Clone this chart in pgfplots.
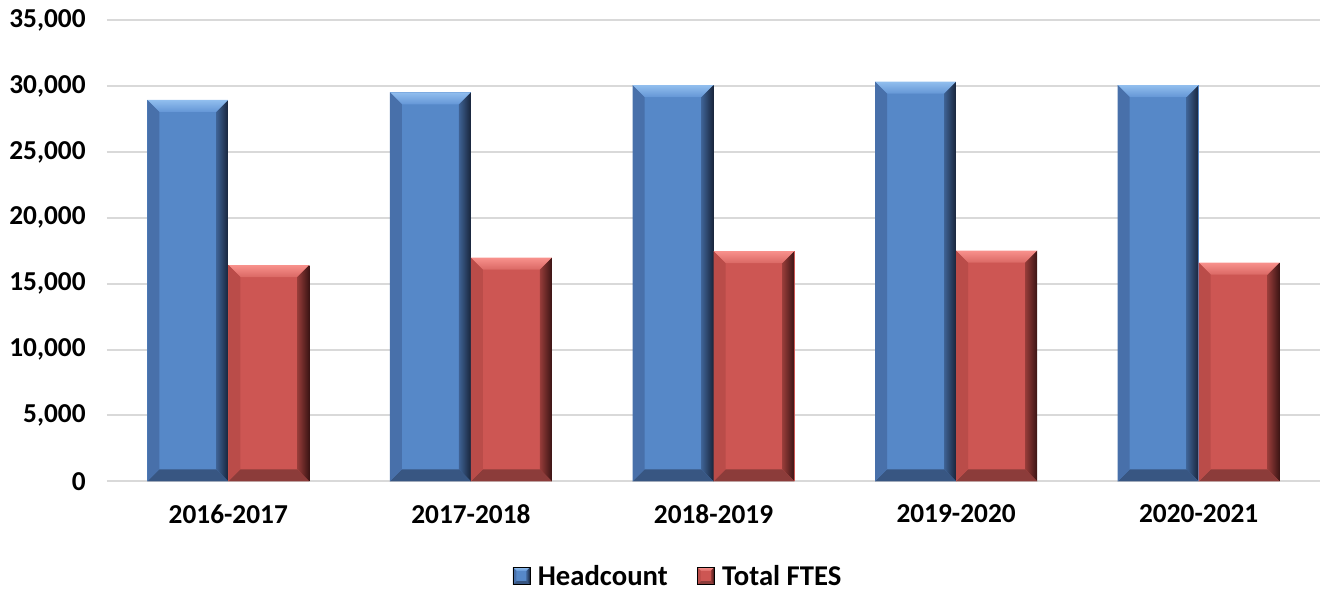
\documentclass[border=0pt]{standalone}
\usepackage{fontspec}
\setmainfont{Carlito}
\usepackage{pgfplots}
\pgfplotsset{compat=1.18}

\definecolor{hcMain}{RGB}{86,136,200}
\definecolor{hcTopA}{RGB}{145,190,238}
\definecolor{hcTopB}{RGB}{100,150,214}
\definecolor{hcRightA}{RGB}{62,98,148}
\definecolor{hcRightB}{RGB}{24,36,58}
\definecolor{hcBot}{RGB}{56,86,130}
\definecolor{hcLeft}{RGB}{72,112,170}
\definecolor{ftMain}{RGB}{205,86,83}
\definecolor{ftTopA}{RGB}{248,145,140}
\definecolor{ftTopB}{RGB}{218,104,100}
\definecolor{ftRightA}{RGB}{150,60,57}
\definecolor{ftRightB}{RGB}{58,20,20}
\definecolor{ftBot}{RGB}{140,60,58}
\definecolor{ftLeft}{RGB}{186,76,73}
\definecolor{gridgray}{RGB}{217,217,217}

\pgfdeclareverticalshading{hctop}{100bp}{color(0bp)=(hcTopB); color(25bp)=(hcTopB); color(75bp)=(hcTopA); color(100bp)=(hcTopA)}
\pgfdeclarehorizontalshading{hcright}{100bp}{color(0bp)=(hcRightA); color(25bp)=(hcRightA); color(75bp)=(hcRightB); color(100bp)=(hcRightB)}
\pgfdeclareverticalshading{fttop}{100bp}{color(0bp)=(ftTopB); color(25bp)=(ftTopB); color(75bp)=(ftTopA); color(100bp)=(ftTopA)}
\pgfdeclarehorizontalshading{ftright}{100bp}{color(0bp)=(ftRightA); color(25bp)=(ftRightA); color(75bp)=(ftRightB); color(100bp)=(ftRightB)}

\makeatletter
\newcommand\bevel[5]{%
  \pgfpointanchor{path picture bounding box}{south west}%
  \edef\bvx{\the\pgf@x}\edef\bvy{\the\pgf@y}%
  \pgfpointanchor{path picture bounding box}{north east}%
  \edef\evx{\the\pgf@x}\edef\evy{\the\pgf@y}%
  \def\bw{#5}%
  % top
  \begin{pgfscope}
  \pgfpathmoveto{\pgfpoint{\bvx}{\evy}}%
  \pgfpathlineto{\pgfpoint{\evx}{\evy}}%
  \pgfpathlineto{\pgfpoint{\evx-\bw}{\evy-\bw}}%
  \pgfpathlineto{\pgfpoint{\bvx+\bw}{\evy-\bw}}%
  \pgfpathclose
  \pgfshadepath{#1}{0}\pgfusepath{discard}%
  \end{pgfscope}
  % right
  \begin{pgfscope}
  \pgfpathmoveto{\pgfpoint{\evx}{\evy}}%
  \pgfpathlineto{\pgfpoint{\evx}{\bvy}}%
  \pgfpathlineto{\pgfpoint{\evx-\bw}{\bvy+\bw}}%
  \pgfpathlineto{\pgfpoint{\evx-\bw}{\evy-\bw}}%
  \pgfpathclose
  \pgfshadepath{#2}{0}\pgfusepath{discard}%
  \end{pgfscope}
  % bottom
  \begin{pgfscope}
  \pgfsetfillcolor{#3}%
  \pgfpathmoveto{\pgfpoint{\bvx}{\bvy}}%
  \pgfpathlineto{\pgfpoint{\evx}{\bvy}}%
  \pgfpathlineto{\pgfpoint{\evx-\bw}{\bvy+\bw}}%
  \pgfpathlineto{\pgfpoint{\bvx+\bw}{\bvy+\bw}}%
  \pgfpathclose
  \pgfusepath{fill}%
  \end{pgfscope}
  % left
  \begin{pgfscope}
  \pgfsetfillcolor{#4}%
  \pgfpathmoveto{\pgfpoint{\bvx}{\evy}}%
  \pgfpathlineto{\pgfpoint{\bvx}{\bvy}}%
  \pgfpathlineto{\pgfpoint{\bvx+\bw}{\bvy+\bw}}%
  \pgfpathlineto{\pgfpoint{\bvx+\bw}{\evy-\bw}}%
  \pgfpathclose
  \pgfusepath{fill}%
  \end{pgfscope}
}
\makeatother

\pgfplotsset{
  hc/.style={ybar, bar width=60.75pt, bar shift=-30.375pt, draw=none, fill=hcMain, forget plot,
    path picture={\bevel{hctop}{hcright}{hcBot}{hcLeft}{9pt}}},
  ft/.style={ybar, bar width=60.75pt, bar shift=30.375pt, draw=none, fill=ftMain, forget plot,
    path picture={\bevel{fttop}{ftright}{ftBot}{ftLeft}{9pt}}},
}

\begin{document}
\begin{tikzpicture}
\begin{axis}[
  at={(0pt,0pt)}, anchor=south west,
  scale only axis,
  width=909.75pt, height=345.75pt,
  xmin=-0.5, xmax=4.5,
  ymin=0, ymax=35000,
  xtick={0,1,2,3,4},
  xticklabels={2016-2017,2017-2018,2018-2019,2019-2020,2020-2021},
  ytick={0,5000,10000,15000,20000,25000,30000,35000},
  scaled y ticks=false,
  /pgf/number format/.cd, 1000 sep={,}, assume math mode=true, /pgfplots/.cd,
  ymajorgrids,
  major grid style={draw=gridgray, line width=1.5pt},
  axis line style={draw=none},
  major tick length=0pt,
  tick style={draw=none},
  ticklabel style={font=\fontsize{20.5}{24}\selectfont\bfseries},
  yticklabel style={xshift=-12.5pt},
  xticklabel style={yshift=-14pt},
  legend style={at={(0.471,-0.2054)}, anchor=center, draw=none, fill=none,
    font=\fontsize{21.5}{25}\selectfont\bfseries, legend columns=2,
    /tikz/every even column/.append style={column sep=20pt}},
  legend cell align=left,
]
\addplot[hc] coordinates {(0,28950)};
\addplot[hc] coordinates {(1,29530)};
\addplot[hc] coordinates {(2,30080)};
\addplot[hc] coordinates {(3,30340)};
\addplot[hc] coordinates {(4,30080)};
\addplot[ft] coordinates {(0,16420)};
\addplot[ft] coordinates {(1,16980)};
\addplot[ft] coordinates {(2,17480)};
\addplot[ft] coordinates {(3,17510)};
\addplot[ft] coordinates {(4,16600)};
\addlegendimage{legend image code/.code={\path[fill=hcMain, path picture={\bevel{hctop}{hcright}{hcBot}{hcLeft}{2.5pt}}] (0pt,-6.4pt) rectangle (12.75pt,6.4pt); \path (16.5pt,0pt);}}
\addlegendentry{Headcount}
\addlegendimage{legend image code/.code={\path[fill=ftMain, path picture={\bevel{fttop}{ftright}{ftBot}{ftLeft}{2.5pt}}] (0pt,-6.4pt) rectangle (12.75pt,6.4pt); \path (16.5pt,0pt);}}
\addlegendentry{Total FTES}
\end{axis}
\pgfresetboundingbox
\path[use as bounding box] (-80.25pt,-83.775pt) rectangle (912pt,360.975pt);
\end{tikzpicture}
\end{document}
